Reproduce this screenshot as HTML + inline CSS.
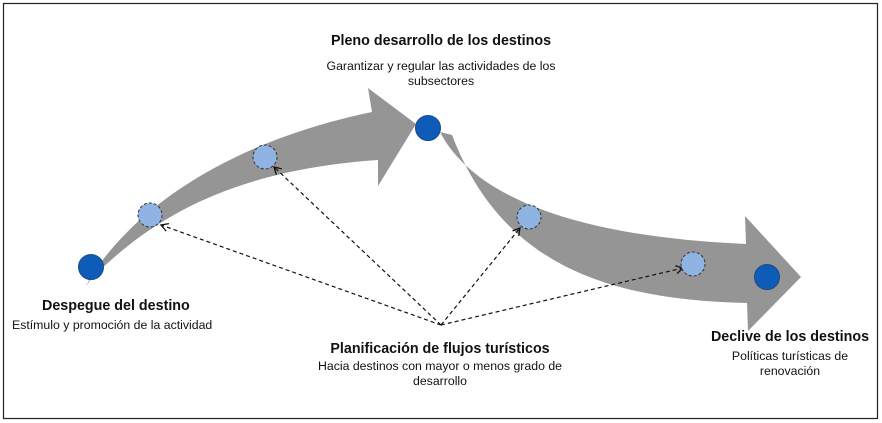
<!DOCTYPE html>
<html><head><meta charset="utf-8"><style>
body{margin:0;background:#fff;width:882px;height:423px;overflow:hidden;font-family:"Liberation Sans",sans-serif}
.t{position:absolute;text-align:center;color:#111;white-space:nowrap}
.b{font-weight:bold;font-size:14.3px}
.s{font-size:12.3px;line-height:15px}
</style></head><body>
<svg width="882" height="423" style="position:absolute;left:0;top:0">
<rect x="3.5" y="3.5" width="874" height="415" fill="none" stroke="#222" stroke-width="1.2"/>
<path d="M86,286 C 110,240 190,150 372,112 L368,88 L416,124 L378,186 L378,160 C 230,170 150,220 92,278 Z" fill="#959595"/>
<path d="M440,132 C 470,190 560,236 746,244 L745,216 L801,277 L748,331 L747,303 C 600,300 500,260 452,135 Z" fill="#959595"/>
<defs><marker id="a" markerWidth="10" markerHeight="10" refX="8" refY="5" orient="auto" markerUnits="userSpaceOnUse"><path d="M1,1 L8,5 L1,9" fill="none" stroke="#111" stroke-width="1.3"/></marker></defs>
<g stroke="#111" stroke-width="1.2" stroke-dasharray="4,3" fill="none" marker-end="url(#a)">
<line x1="441" y1="325" x2="161" y2="225"/>
<line x1="441" y1="325" x2="274" y2="167"/>
<line x1="441" y1="325" x2="520" y2="228"/>
<line x1="441" y1="325" x2="683" y2="268"/>
</g>
<g fill="#8fb4e3" stroke="#333" stroke-width="1" stroke-dasharray="3,2">
<circle cx="150" cy="215" r="12"/><circle cx="265" cy="157" r="12"/><circle cx="529" cy="217" r="12"/><circle cx="693" cy="264" r="12"/>
</g>
<g fill="#0f5cb8" stroke="#1a4a8a" stroke-width="1">
<circle cx="91" cy="267" r="12.5"/><circle cx="428" cy="128" r="12.5"/><circle cx="767" cy="277" r="12.5"/>
</g>
</svg>
<div class="t b" style="left:291px;width:300px;top:33px">Pleno desarrollo de los destinos</div>
<div class="t s" style="left:291px;width:300px;top:59px">Garantizar y regular las actividades de los<br>subsectores</div>
<div class="t b" style="left:42px;top:298px">Despegue del destino</div>
<div class="t s" style="left:12px;top:318px">Estímulo y promoción de la actividad</div>
<div class="t b" style="left:290px;width:300px;top:341px">Planificación de flujos turísticos</div>
<div class="t s" style="left:290px;width:300px;top:359px">Hacia destinos con mayor o menos grado de<br>desarrollo</div>
<div class="t b" style="left:700px;width:180px;top:329px">Declive de los destinos</div>
<div class="t s" style="left:700px;width:180px;top:349px">Políticas turísticas de<br>renovación</div>
</body></html>
